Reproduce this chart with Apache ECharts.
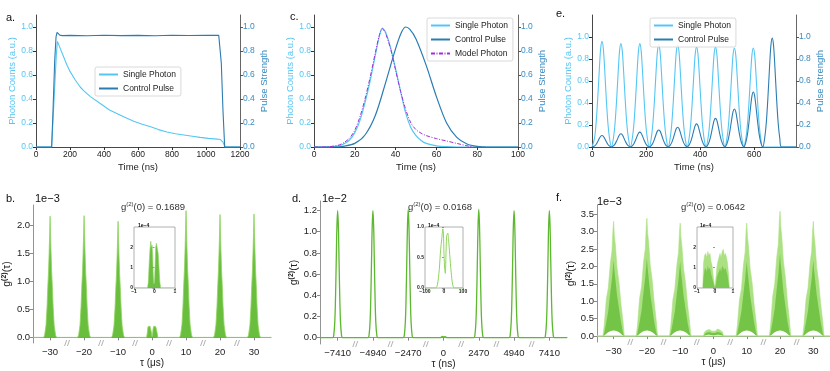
<!DOCTYPE html>
<html>
<head>
<meta charset="utf-8">
<script src="https://cdn.jsdelivr.net/npm/echarts@6/dist/echarts.min.js"></script>
<style>
html,body{margin:0;padding:0;background:#fff}
#chart{width:830px;height:371px}
</style>
</head>
<body>
<div id="chart"></div>
<script>
// ---- a. long control pulse ----
var aSingleT  = [0, 92, 100, 110, 120, 126, 140, 160, 180, 200, 230, 260, 280, 320, 380, 430, 475, 525, 575, 625, 670, 720, 770, 820, 870, 920, 965, 1015, 1065, 1085, 1100, 1112, 1200];
var aSingleY  = [0, 0, 0.22, 0.5, 0.78, 0.88, 0.83, 0.76, 0.69, 0.63, 0.56, 0.5, 0.47, 0.42, 0.36, 0.31, 0.28, 0.245, 0.215, 0.19, 0.17, 0.145, 0.125, 0.11, 0.1, 0.09, 0.08, 0.072, 0.066, 0.062, 0.04, 0, 0];
var aControlT = [0, 92, 100, 110, 118, 124, 130, 140, 155, 200, 300, 400, 500, 600, 700, 800, 900, 1000, 1075, 1082, 1090, 1100, 1110, 1200];
var aControlY = [0, 0, 0.3, 0.72, 0.92, 0.955, 0.945, 0.932, 0.928, 0.93, 0.927, 0.931, 0.928, 0.93, 0.927, 0.931, 0.929, 0.93, 0.93, 0.92, 0.7, 0.3, 0, 0];

// ---- c. shaped pulse ----
var cSingleT  = [0, 5, 10, 12.5, 15, 17.5, 20, 22.5, 25, 27.5, 30, 32, 33.5, 35, 37.5, 40, 42.5, 45, 47.5, 50, 52.5, 55, 60, 65, 70, 100];
var cSingleY  = [0, 0, 0.005, 0.012, 0.03, 0.06, 0.12, 0.22, 0.37, 0.55, 0.76, 0.92, 0.99, 0.96, 0.83, 0.65, 0.46, 0.28, 0.16, 0.095, 0.055, 0.03, 0.01, 0.003, 0, 0];
var cModelT   = [0, 5, 10, 12.5, 15, 17.5, 20, 22.5, 25, 27.5, 30, 32, 33.5, 35, 37.5, 40, 42.5, 45, 47.5, 50, 52.5, 55, 60, 65, 70, 75, 78];
var cModelY   = [0, 0, 0.008, 0.018, 0.04, 0.075, 0.14, 0.25, 0.4, 0.58, 0.78, 0.93, 0.985, 0.95, 0.82, 0.64, 0.46, 0.31, 0.2, 0.145, 0.115, 0.095, 0.07, 0.05, 0.03, 0.01, 0];
var cControlT = [0, 10, 15, 20, 25, 30, 35, 40, 43, 45, 47, 50, 55, 60, 65, 70, 75, 80, 85, 100];
var cControlY = [0, 0, 0.008, 0.03, 0.1, 0.26, 0.53, 0.82, 0.96, 1.0, 0.98, 0.9, 0.68, 0.42, 0.2, 0.08, 0.025, 0.005, 0, 0];

// ---- e. pulse train ----
var ePeakT     = [37, 107, 177, 247, 317, 387, 457, 527, 597, 667];
var eSingleH   = [0.96, 0.94, 0.94, 0.93, 0.93, 0.91, 0.91, 0.90, 0.90];
var eControlH  = [0.105, 0.12, 0.135, 0.155, 0.18, 0.21, 0.26, 0.345, 0.5, 0.99];
var ePulseDt   = [-35, -28, -22, -16, -10, -5, 0, 5, 10, 16, 22, 28, 35];
var ePulseShape= [0, 0.08, 0.22, 0.45, 0.73, 0.93, 1, 0.93, 0.73, 0.45, 0.22, 0.08, 0];

// ---- g2 panels (broken axes: one unit per segment) ----
var segCentre = [0.5, 1.5, 2.5, 3.5, 4.5, 5.5, 6.5];
var bLabels = ['−30', '−20', '−10', '0', '10', '20', '30'];
var dLabels = ['−7410', '−4940', '−2470', '0', '2470', '4940', '7410'];
var fLabels = ['−30', '−20', '−10', '0', '10', '20', '30'];
var g2Values = ['0.1689', '0.0168', '0.0642'];

var bPeakH     = [2.16, 2.17, 2.07, 0, 2.26, 2.19, 2.2];
var bPeakDx    = [-0.5, -0.19, -0.16, -0.12, -0.09, -0.065, -0.045, -0.028, -0.013, 0, 0.013, 0.028, 0.045, 0.065, 0.09, 0.12, 0.16, 0.19, 0.5];
var bPeakShape = [0, 0, 0.02, 0.1, 0.25, 0.43, 0.55, 0.7, 0.85, 1, 0.85, 0.7, 0.55, 0.43, 0.25, 0.1, 0.02, 0, 0];
var bZeroDx    = [-0.5, -0.16, -0.135, -0.12, -0.1, -0.08, -0.06, -0.04, -0.015, 0, 0.015, 0.03, 0.05, 0.07, 0.09, 0.11, 0.13, 0.15, 0.17, 0.5];
var bZeroY     = [0, 0, 0.1, 0.19, 0.21, 0.18, 0.2, 0.17, 0.08, 0.01, 0.05, 0.15, 0.2, 0.18, 0.21, 0.19, 0.17, 0.08, 0, 0];

var dPeakH     = [1.2, 1.2, 1.21, 0, 1.21, 1.2, 1.2];
var dPeakDx    = [-0.5, -0.14, -0.11, -0.08, -0.06, -0.04, -0.02, 0, 0.02, 0.04, 0.06, 0.08, 0.11, 0.14, 0.5];
var dPeakShape = [0, 0, 0.02, 0.13, 0.32, 0.6, 0.88, 1, 0.88, 0.6, 0.32, 0.13, 0.02, 0, 0];
var dZeroDx    = [-0.5, -0.1, -0.05, -0.02, 0, 0.03, 0.06, 0.1, 0.5];
var dZeroY     = [0, 0, 0.008, 0.012, 0.004, 0.01, 0.008, 0, 0];

var fPeakH     = [3.29, 3.38, 3.24, 0, 3.24, 3.58, 3.29];
var fPeakDx    = [-0.5, -0.32, -0.28, -0.22, -0.16, -0.1, -0.05, -0.02, 0, 0.02, 0.05, 0.1, 0.16, 0.22, 0.28, 0.32, 0.5];
var fOuter     = [0, 0, 0.1, 0.32, 0.42, 0.63, 0.74, 0.93, 1, 0.88, 0.8, 0.6, 0.47, 0.28, 0.13, 0, 0];
var fInner     = [0, 0, 0.03, 0.12, 0.22, 0.38, 0.5, 0.6, 0.66, 0.58, 0.5, 0.36, 0.24, 0.12, 0.03, 0, 0];
var fHollow    = [0, 0, 0.02, 0.07, 0.11, 0.14, 0.15, 0.16, 0.16, 0.16, 0.15, 0.14, 0.11, 0.07, 0.02, 0, 0];
var fZeroDx    = [-0.5, -0.3, -0.27, -0.2, -0.12, -0.05, 0, 0.05, 0.12, 0.2, 0.27, 0.3, 0.5];
var fZeroTop   = [0, 0, 0.12, 0.17, 0.19, 0.14, 0.1, 0.14, 0.2, 0.17, 0.12, 0, 0];
var fZeroMid   = [0, 0, 0.06, 0.1, 0.12, 0.09, 0.06, 0.09, 0.12, 0.1, 0.06, 0, 0];
var fZeroHole  = [0, 0, 0.01, 0.03, 0.04, 0.03, 0.02, 0.03, 0.04, 0.03, 0.01, 0, 0];

// ---- insets (x1e-4 on y) ----
var bInT = [-1, -0.34, -0.3, -0.26, -0.22, -0.18, -0.15, -0.12, -0.09, -0.06, -0.03, 0, 0.03, 0.06, 0.09, 0.12, 0.15, 0.18, 0.22, 0.26, 0.3, 1];
var bInY = [0, 0, 0.3, 1.2, 1.9, 2.3, 2.0, 2.1, 1.6, 0.6, 0.2, 0.3, 1.1, 2.0, 2.2, 2.05, 2.1, 1.7, 1.0, 0.3, 0, 0];
var dInT = [-100, -45, -35, -25, -18, -12, -6, -3, 0, 4, 7, 10, 14, 20, 24, 30, 38, 46, 55, 100];
var dInY = [0, 0, 0.05, 0.3, 0.62, 0.8, 0.97, 0.9, 0.55, 0.3, 0.24, 0.5, 0.85, 0.9, 0.8, 0.55, 0.25, 0.05, 0, 0];
var fInT = [-1, -0.68, -0.64, -0.58, -0.52, -0.46, -0.4, -0.34, -0.28, -0.22, -0.16, -0.1, -0.04, 0, 0.05, 0.1, 0.16, 0.22, 0.28, 0.34, 0.4, 0.46, 0.52, 0.58, 0.64, 0.7, 0.76, 0.8, 1];
var fInTop = [0, 0, 1.2, 1.6, 1.7, 1.5, 1.8, 1.6, 1.7, 1.3, 1.1, 0.6, 0.2, 0.05, 0.5, 1.0, 1.3, 1.5, 1.7, 1.5, 1.8, 1.9, 1.6, 1.7, 1.5, 1.2, 0.6, 0, 0];
var fInMid = [0, 0, 0.5, 0.9, 1.0, 0.8, 1.1, 0.9, 1.0, 0.7, 0.5, 0.3, 0.1, 0, 0.2, 0.5, 0.7, 0.8, 1.0, 0.8, 1.1, 1.1, 0.9, 1.0, 0.8, 0.6, 0.2, 0, 0];

var LIGHT = '#55c6f4', DARK = '#2b7cb2', RTXT = '#3a8cc0', PURPLE = '#a030d8';
var GREEN = '#5cb82e', LGREEN = '#8fd45e', PALE = '#abe182';

function pairs(xs, ys) {
  var o = [];
  for (var i = 0; i < xs.length; i++) o.push([xs[i], ys[i]]);
  return o;
}
function pulses(centres, heights, dts, shape) {
  var o = [];
  for (var k = 0; k < heights.length; k++)
    for (var j = 0; j < dts.length; j++) o.push([centres[k] + dts[j], heights[k] * shape[j]]);
  return o;
}
// heights null -> shape already absolute
function segments(heights, dx, shape, zeroDx, zeroY) {
  var o = [];
  for (var k = 0; k < segCentre.length; k++) {
    if (k === 3) {
      for (var j = 0; j < zeroDx.length; j++) o.push([segCentre[k] + zeroDx[j], zeroY[j]]);
    } else {
      for (var j = 0; j < dx.length; j++) o.push([segCentre[k] + dx[j], heights ? heights[k] * shape[j] : shape[j]]);
    }
  }
  return o;
}

var eSingle = [[0, 0]].concat(pulses(ePeakT, eSingleH, ePulseDt, ePulseShape), [[755, 0]]);
var eControl = [[0, 0]].concat(pulses(ePeakT, eControlH, ePulseDt, ePulseShape), [[755, 0]]);

var myChart = echarts.init(document.getElementById('chart'), null, {renderer: 'canvas'});

var ticks01 = [0, 0.2, 0.4, 0.6, 0.8, 1.0];
function fix1(v) { return v.toFixed(1); }
function plain(v) { return String(v); }

function topX(g, max, step, vals) {
  return {
    type: 'value', gridIndex: g, min: 0, max: max, interval: step,
    name: 'Time (ns)', nameLocation: 'middle', nameGap: 15,
    nameTextStyle: {fontSize: 9.5, color: '#222'},
    axisLine: {lineStyle: {color: '#333', width: 0.9}},
    axisTick: {length: 3, customValues: vals, lineStyle: {color: '#333'}},
    axisLabel: {customValues: vals, formatter: plain, fontSize: 8.5, color: '#222', margin: 3},
    splitLine: {show: false}
  };
}
function topY(g, max, right) {
  return {
    type: 'value', gridIndex: g, min: 0, max: max, position: right ? 'right' : 'left',
    name: right ? 'Pulse Strength' : 'Photon Counts (a.u.)',
    nameLocation: 'middle', nameGap: 19,
    nameTextStyle: {fontSize: 9.5, color: right ? RTXT : LIGHT},
    axisLine: {show: true, lineStyle: {color: right ? '#555' : '#333', width: 0.9}},
    axisTick: {show: true, length: 3, customValues: ticks01, lineStyle: {color: right ? '#555' : '#333'}},
    axisLabel: {customValues: ticks01, formatter: fix1, fontSize: 8.5, color: right ? RTXT : LIGHT, margin: 3},
    splitLine: {show: false}
  };
}
function segX(g, labels, name) {
  return {
    type: 'value', gridIndex: g, min: 0, max: 7,
    name: name, nameLocation: 'middle', nameGap: 14,
    nameTextStyle: {fontSize: 10, color: '#222'},
    axisLine: {lineStyle: {color: '#888', width: 0.9}},
    axisTick: {length: 3, customValues: segCentre, lineStyle: {color: '#888'}},
    axisLabel: {customValues: segCentre, formatter: function (v) { return labels[Math.floor(v)]; }, fontSize: 9.5, color: '#222', margin: 4},
    splitLine: {show: false}
  };
}
function segY(g, min, max, vals) {
  return {
    type: 'value', gridIndex: g, min: min, max: max,
    name: '{g|g}{s|(2)}{g|(τ)}', nameLocation: 'middle', nameGap: 16,
    nameTextStyle: {color: '#222', rich: {g: {fontSize: 10.5, color: '#222'}, s: {fontSize: 7, fontWeight: 'bold', color: '#222', padding: [0, 0, 6, 0]}}},
    axisLine: {show: true, lineStyle: {color: '#888', width: 0.9}},
    axisTick: {show: true, length: 3, customValues: vals, lineStyle: {color: '#888'}},
    axisLabel: {customValues: vals, formatter: fix1, fontSize: 9.5, color: '#222', margin: 3},
    splitLine: {show: false}
  };
}
function insetX(g, min, max, vals) {
  return {
    type: 'value', gridIndex: g, min: min, max: max, z: 12,
    axisLine: {show: false},
    axisTick: {length: 2, customValues: vals, lineStyle: {color: '#555', width: 0.6}},
    axisLabel: {customValues: vals, fontSize: 5, fontWeight: 'bold', color: '#222', margin: 1,
      formatter: function (v) { return v < 0 ? '−' + (-v) : String(v); }},
    splitLine: {show: false}
  };
}
function insetY(g, max, vals, fmt) {
  return {
    type: 'value', gridIndex: g, min: 0, max: max, z: 12,
    axisLine: {show: false},
    axisTick: {show: true, length: 2, customValues: vals, lineStyle: {color: '#555', width: 0.6}},
    axisLabel: {customValues: vals, fontSize: 5, fontWeight: 'bold', color: '#222', margin: 1, formatter: fmt},
    splitLine: {show: false}
  };
}
function line(name, xi, yi, data, color, width, extra) {
  var s = {
    name: name, type: 'line', xAxisIndex: xi, yAxisIndex: yi, data: data,
    symbol: 'none', showSymbol: false, silent: true,
    lineStyle: {color: color, width: width}, itemStyle: {color: color}
  };
  for (var k in extra) s[k] = extra[k];
  return s;
}
function breaks(xi, yi, y0) {
  var pts = [[1, y0], [2, y0], [3, y0], [4, y0], [5, y0], [6, y0]];
  return [
    {type: 'scatter', xAxisIndex: xi, yAxisIndex: yi, data: pts, symbol: 'rect', symbolSize: [4, 3],
      itemStyle: {color: '#fff'}, clip: false, silent: true, z: 6},
    {type: 'scatter', xAxisIndex: xi, yAxisIndex: yi, data: pts, symbol: 'path://M0,10L3,0M4,10L7,0',
      symbolSize: [5, 6], itemStyle: {color: 'none', borderColor: '#888', borderWidth: 0.8}, clip: false, silent: true, z: 7}
  ];
}
function g2Text(x, y, val) {
  return {type: 'text', x: x, y: y, style: {text: '{a|g}{s|(2)}{a|(0) = ' + val + '}', align: 'center', verticalAlign: 'middle',
    rich: {a: {fontSize: 9.5, fill: '#333', fontFamily: 'Liberation Sans'}, s: {fontSize: 6, fill: '#333', padding: [0, 0, 5, 0], fontFamily: 'Liberation Sans'}}}};
}
function tag(x, y, t, size, weight) {
  return {type: 'text', x: x, y: y, z: 20, style: {text: t, fontSize: size || 11, fontWeight: weight || 'normal', fill: '#111',
    fontFamily: 'Liberation Sans', verticalAlign: 'middle'}};
}

var legendBase = {
  orient: 'vertical', itemWidth: 19, itemHeight: 8, itemGap: 5, padding: [3, 5, 3, 3],
  borderColor: '#d0d0d0', borderWidth: 0.8, borderRadius: 2, backgroundColor: 'rgba(255,255,255,0.85)',
  itemStyle: {opacity: 0},
  textStyle: {fontSize: 8.5, color: '#222'}, selectedMode: false
};
function legend(left, top, names) {
  var l = {left: left, top: top, data: names};
  for (var k in legendBase) l[k] = legendBase[k];
  return l;
}

var option = {
  animation: false,
  textStyle: {fontFamily: 'Liberation Sans, Arial, sans-serif'},
  grid: [
    {left: 36, top: 15, width: 204, height: 132},
    {left: 314, top: 15, width: 204, height: 132},
    {left: 592, top: 15, width: 204, height: 132},
    {left: 33, top: 205, width: 238, height: 138},
    {left: 320, top: 201, width: 247, height: 143},
    {left: 597, top: 205, width: 236, height: 137},
    {left: 134, top: 227, width: 41, height: 61, show: true, borderColor: '#9aa0a0', borderWidth: 0.8, backgroundColor: '#fff', z: 10},
    {left: 425, top: 227, width: 38, height: 61, show: true, borderColor: '#9aa0a0', borderWidth: 0.8, backgroundColor: '#fff', z: 10},
    {left: 697, top: 227, width: 36, height: 61, show: true, borderColor: '#9aa0a0', borderWidth: 0.8, backgroundColor: '#fff', z: 10}
  ],
  xAxis: [
    topX(0, 1200, 200, [0, 200, 400, 600, 800, 1000, 1200]),
    topX(1, 100, 20, [0, 20, 40, 60, 80, 100]),
    topX(2, 755, null, [0, 200, 400, 600]),
    segX(3, bLabels, 'τ (μs)'),
    segX(4, dLabels, 'τ (ns)'),
    segX(5, fLabels, 'τ (μs)'),
    insetX(6, -1, 1, [-1, 0, 1]),
    insetX(7, -100, 100, [-100, 0, 100]),
    insetX(8, -1, 1, [-1, 0, 1])
  ],
  yAxis: [
    topY(0, 1.1, false), topY(0, 1.1, true),
    topY(1, 1.1, false), topY(1, 1.1, true),
    topY(2, 1.2, false), topY(2, 1.2, true),
    segY(3, -0.1, 2.36, [0, 0.5, 1.0, 1.5, 2.0]),
    segY(4, -0.06, 1.29, [0, 0.2, 0.4, 0.6, 0.8, 1.0, 1.2]),
    segY(5, -0.17, 3.76, [0, 0.5, 1.0, 1.5, 2.0, 2.5, 3.0, 3.5]),
    insetY(6, 3, [0, 1, 2], plain),
    insetY(7, 1, [0, 0.5, 1], fix1),
    insetY(8, 3, [0, 1, 2], plain)
  ],
  legend: [
    legend(95, 67, ['Single Photon', 'Control Pulse']),
    legend(427, 18, ['Single Photon', 'Control Pulse', 'Model Photon']),
    legend(650, 18, ['Single Photon', 'Control Pulse'])
  ],
  series: [
    line('Single Photon', 0, 0, pairs(aSingleT, aSingleY), LIGHT, 1.1),
    line('Control Pulse', 0, 1, pairs(aControlT, aControlY), DARK, 1.1),
    line('Single Photon', 1, 2, pairs(cSingleT, cSingleY), LIGHT, 1.2, {smooth: 0.3}),
    line('Control Pulse', 1, 3, pairs(cControlT, cControlY), DARK, 1.2, {smooth: 0.3}),
    line('Model Photon', 1, 2, pairs(cModelT, cModelY), PURPLE, 1, {smooth: 0.3, lineStyle: {color: PURPLE, width: 1, type: [4, 1.5, 1, 1.5]}}),
    line('Single Photon', 2, 4, eSingle, LIGHT, 1.1, {smooth: 0.3}),
    line('Control Pulse', 2, 5, eControl, DARK, 1.1, {smooth: 0.3}),

    line('b', 3, 6, segments(bPeakH, bPeakDx, bPeakShape, bZeroDx, bZeroY), LGREEN, 0.8, {areaStyle: {color: GREEN, opacity: 0.92}}),
    line('d', 4, 7, segments(dPeakH, dPeakDx, dPeakShape, dZeroDx, dZeroY), GREEN, 1.3, {smooth: 0.4}),
    line('f1', 5, 8, segments(fPeakH, fPeakDx, fOuter, fZeroDx, fZeroTop), PALE, 0.6, {areaStyle: {color: PALE, opacity: 1}}),
    line('f2', 5, 8, segments(fPeakH, fPeakDx, fInner, fZeroDx, fZeroMid), GREEN, 0, {areaStyle: {color: GREEN, opacity: 0.7}}),
    line('f3', 5, 8, segments(null, fPeakDx, fHollow, fZeroDx, fZeroHole), '#fff', 0, {smooth: 0.3, areaStyle: {color: '#fff', opacity: 1}}),
    line('f0', 5, 8, [[0, 0], [7, 0]], PALE, 1.1),

    line('bi', 6, 9, pairs(bInT, bInY), LGREEN, 0.6, {z: 12, areaStyle: {color: GREEN, opacity: 0.9}}),
    line('di', 7, 10, pairs(dInT, dInY), LGREEN, 1, {z: 12, smooth: 0.3}),
    line('fi1', 8, 11, pairs(fInT, fInTop), PALE, 0.5, {z: 12, areaStyle: {color: PALE, opacity: 1}}),
    line('fi2', 8, 11, pairs(fInT, fInMid), GREEN, 0, {z: 13, areaStyle: {color: GREEN, opacity: 0.6}})
  ].concat(breaks(3, 6, -0.1), breaks(4, 7, -0.06), breaks(5, 8, -0.17)),
  graphic: [
    tag(6, 18, 'a.'), tag(290, 17, 'c.'), tag(556, 14, 'e.'),
    tag(6, 199, 'b.'), tag(292, 199, 'd.'), tag(556, 198, 'f.'),
    tag(35, 199, '1e−3'), tag(322, 199, '1e−2'), tag(597, 202, '1e−3'),
    tag(138, 226, '1e−4', 5, 'bold'), tag(428, 226, '1e−4', 5, 'bold'), tag(700, 226, '1e−4', 5, 'bold'),
    g2Text(153, 207, g2Values[0]), g2Text(440, 207, g2Values[1]), g2Text(713, 207, g2Values[2])
  ]
};

myChart.setOption(option);
</script>
</body>
</html>
